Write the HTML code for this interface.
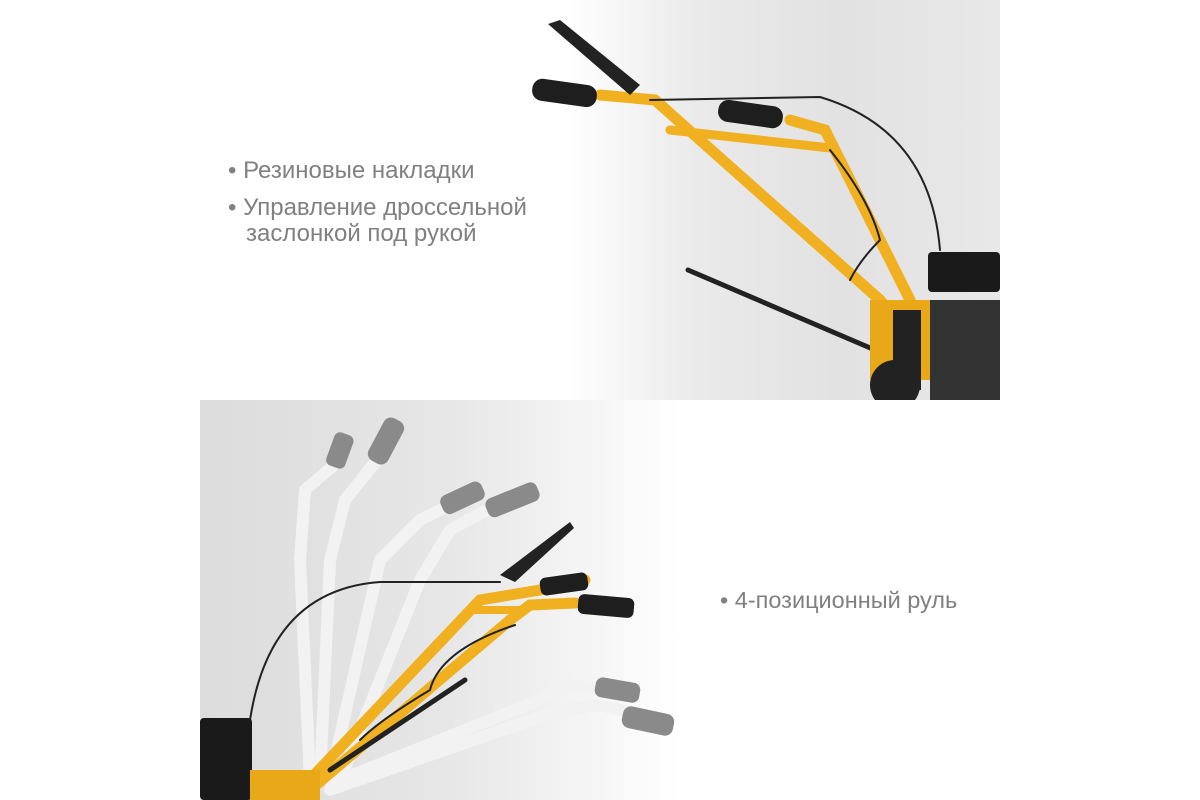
<!DOCTYPE html>
<html><head><meta charset="utf-8"><style>
html,body{margin:0;padding:0;background:#fff}
body{width:1200px;height:800px;position:relative;overflow:hidden;font-family:"Liberation Sans",sans-serif}
.p1{position:absolute;left:200px;top:0;width:800px;height:400px;background:linear-gradient(90deg,#fff 0%,#fff 46%,#eaeaea 62%,#e2e2e2 80%,#e8e8e8 100%)}
.p2{position:absolute;left:200px;top:400px;width:800px;height:400px;background:linear-gradient(90deg,#dcdcdc 0%,#e6e6e6 30%,#f6f6f6 50%,#fff 60%,#fff 100%)}
.t{position:absolute;color:#808080;font-size:24px;line-height:26px}
svg{position:absolute;left:0;top:0}
</style></head><body>
<div class="p1"></div><div class="p2"></div>
<div class="t" style="left:228px;top:158px">•&nbsp;Резиновые накладки</div>
<div class="t" style="left:228px;top:195px">•&nbsp;Управление дроссельной<br><span style="padding-left:18px">заслонкой под рукой</span></div>
<div class="t" style="left:720px;top:587px;font-size:23.5px">•&nbsp;4-позиционный руль</div>
<svg width="1200" height="800">
<defs><clipPath id="c1"><rect x="200" y="0" width="800" height="400"/></clipPath><clipPath id="c2"><rect x="200" y="400" width="800" height="400"/></clipPath></defs>
<g clip-path="url(#c1)">
<g fill="none" stroke-linecap="round">
<path d="M600 95 L655 100 L880 300 L905 330" stroke="#f0b020" stroke-width="11"/>
<path d="M670 130 L830 148" stroke="#f0b020" stroke-width="9"/>
<path d="M790 120 L825 130 L840 160 L910 300" stroke="#f0b020" stroke-width="11"/>
<path d="M688 270 L875 350" stroke="#222" stroke-width="5"/>
<path d="M650 100 L820 97 Q930 130 940 250" stroke="#222" stroke-width="2"/>
<path d="M830 150 Q870 200 880 240 Q860 260 850 280" stroke="#222" stroke-width="2"/>
</g>
<rect x="532" y="82" width="65" height="22" rx="10" fill="#1e1e1e" transform="rotate(8 565 93)"/>
<rect x="718" y="103" width="65" height="22" rx="10" fill="#1e1e1e" transform="rotate(8 750 114)"/>
<path d="M548 24 L560 20 L640 85 L630 95 Z" fill="#222"/>
<rect x="870" y="300" width="60" height="80" fill="#e8a818"/>
<rect x="893" y="310" width="28" height="80" fill="#222"/>
<rect x="928" y="252" width="72" height="40" rx="4" fill="#1a1a1a"/>
<rect x="930" y="300" width="70" height="100" fill="#333"/>
<circle cx="895" cy="385" r="25" fill="#222"/>
</g>
<g clip-path="url(#c2)">
<g fill="none" stroke="#f2f2f2" stroke-width="12" stroke-linecap="round">
<path d="M310 780 L300 560 L305 490 L340 460"/>
<path d="M320 780 L330 560 L345 500 L385 450"/>
<path d="M330 780 L380 560 L420 520 L460 500"/>
<path d="M340 780 L420 580 L450 530 L505 500"/>
<path d="M340 780 L540 700 L560 685 L610 688"/>
<path d="M330 790 L560 710 L600 705 L640 715"/>
</g>
<g fill="#8a8a8a">
<rect x="322" y="440" width="35" height="20" rx="6" transform="rotate(-70 340 450)"/>
<rect x="362" y="430" width="48" height="22" rx="8" transform="rotate(-62 386 441)"/>
<rect x="440" y="488" width="45" height="20" rx="7" transform="rotate(-25 462 498)"/>
<rect x="485" y="490" width="55" height="20" rx="7" transform="rotate(-22 512 500)"/>
<rect x="595" y="680" width="45" height="20" rx="7" transform="rotate(10 617 690)"/>
<rect x="622" y="710" width="52" height="22" rx="8" transform="rotate(12 648 721)"/>
</g>
<g fill="none" stroke-linecap="round">
<path d="M300 790 L480 600 L540 590 L585 580" stroke="#f0b020" stroke-width="11"/>
<path d="M470 610 L520 610" stroke="#f0b020" stroke-width="8"/>
<path d="M310 790 L510 620 L530 605 L575 603" stroke="#f0b020" stroke-width="11"/>
<path d="M330 770 L465 680" stroke="#222" stroke-width="5"/>
<path d="M500 582 L380 582 Q270 590 250 720" stroke="#222" stroke-width="2"/>
<path d="M515 625 Q440 650 430 690 Q380 720 360 740" stroke="#222" stroke-width="2"/>
</g>
<rect x="540" y="575" width="48" height="18" rx="6" fill="#1e1e1e" transform="rotate(-8 564 584)"/>
<rect x="578" y="596" width="56" height="20" rx="6" fill="#1e1e1e" transform="rotate(5 606 606)"/>
<path d="M500 575 L570 522 L574 528 L515 582 Z" fill="#222"/>
<rect x="200" y="718" width="52" height="82" rx="4" fill="#1a1a1a"/>
<rect x="250" y="770" width="70" height="30" fill="#e8a818"/>
</g>
</svg>
</body></html>
